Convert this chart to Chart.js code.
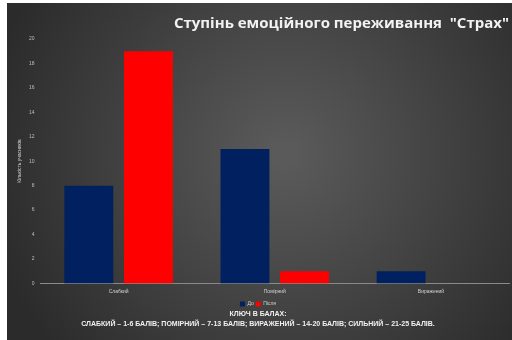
<!DOCTYPE html>
<html lang="uk">
<head>
    <meta charset="UTF-8">
    <title>Ступінь емоційного переживання "Страх"</title>
    <style>
        html, body {
            margin: 0;
            padding: 0;
            background: #ffffff;
        }
        #wrap {
            position: absolute;
            left: 7px;
            top: 3px;
            width: 505px;
            height: 337px;
        }
    </style>
</head>
<body>
    <div id="wrap">
        <canvas id="myChart" width="505" height="337"></canvas>
    </div>

    <script src="https://cdn.jsdelivr.net/npm/chart.js"></script>
    <script>
        const levels = ['Слабкий', 'Помірний', 'Виражений'];
        const before = [8, 11, 1];
        const after = [19, 1, 0];
        const keyLines = [
            'КЛЮЧ В БАЛАХ:',
            'СЛАБКИЙ – 1-6 БАЛІВ; ПОМІРНИЙ – 7-13 БАЛІВ; ВИРАЖЕНИЙ – 14-20 БАЛІВ; СИЛЬНИЙ – 21-25 БАЛІВ.'
        ];

        // dark slide background, lighter in the middle
        const slideBackground = {
            id: 'slideBackground',
            beforeDraw(chart) {
                const { ctx, width, height } = chart;
                const g = ctx.createRadialGradient(width * 0.55, height * 0.45, 10, width * 0.55, height * 0.45, width * 0.6);
                g.addColorStop(0, '#5a5a5a');
                g.addColorStop(1, '#2b2b2b');
                ctx.save();
                ctx.fillStyle = g;
                ctx.fillRect(0, 0, width, height);
                ctx.restore();
            }
        };

        const ctx = document.getElementById('myChart').getContext('2d');
        const myChart = new Chart(ctx, {
            type: 'bar',
            data: {
                labels: levels,
                datasets: [
                    {
                        label: 'До',
                        data: before,
                        backgroundColor: '#002060'
                    },
                    {
                        label: 'Після',
                        data: after,
                        backgroundColor: '#ff0000'
                    }
                ]
            },
            options: {
                responsive: false,
                animation: false,
                categoryPercentage: 0.764,
                barPercentage: 0.82,
                layout: {
                    padding: { left: 0, right: 3, top: 4, bottom: 11 }
                },
                plugins: {
                    title: {
                        display: true,
                        text: 'Ступінь емоційного переживання  "Страх"',
                        align: 'end',
                        color: '#f2f2f2',
                        font: { family: 'Open Sans', size: 15, weight: 'bold' },
                        padding: { top: 8, bottom: 6 }
                    },
                    subtitle: {
                        display: true,
                        position: 'bottom',
                        text: keyLines,
                        color: '#f0f0f0',
                        font: { family: 'Liberation Sans', size: 7, weight: 'bold', lineHeight: 1.4 },
                        padding: { top: -7, bottom: 0 }
                    },
                    legend: {
                        position: 'bottom',
                        labels: {
                            color: '#cfcfcf',
                            font: { family: 'Liberation Sans', size: 5 },
                            boxWidth: 5,
                            boxHeight: 5,
                            padding: 2
                        }
                    },
                    tooltip: { enabled: false }
                },
                scales: {
                    x: {
                        grid: { display: false, drawTicks: false },
                        border: { color: '#8a8a8a', width: 1 },
                        ticks: {
                            color: '#d0d0d0',
                            font: { family: 'Liberation Sans', size: 5 },
                            padding: 5
                        }
                    },
                    y: {
                        min: 0,
                        max: 20,
                        ticks: {
                            stepSize: 2,
                            color: '#bdbdbd',
                            font: { family: 'Liberation Sans', size: 5 },
                            padding: 6
                        },
                        grid: { display: false, drawTicks: false },
                        border: { display: false },
                        title: {
                            display: true,
                            text: 'Кількість учасників',
                            color: '#cfcfcf',
                            font: { family: 'Liberation Sans', size: 5 },
                            padding: { top: 10, bottom: 0 }
                        }
                    }
                }
            },
            plugins: [slideBackground]
        });
    </script>
</body>
</html>
